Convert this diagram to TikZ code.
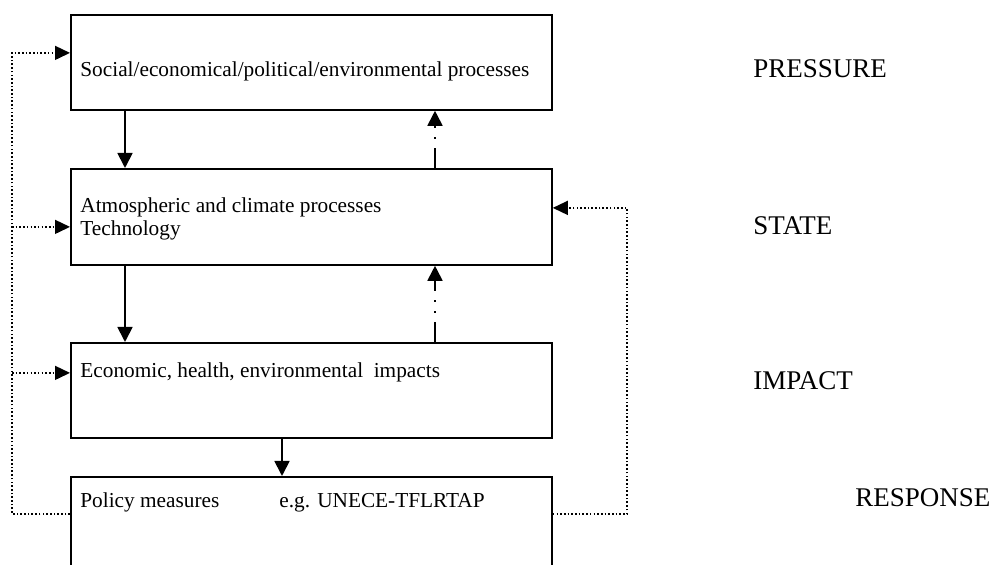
\documentclass[tikz,border=0pt]{standalone}
\usepackage{fontspec}
\setmainfont{Liberation Serif}
\usetikzlibrary{arrows.meta,calc}

\tikzset{
  box/.style={draw, line width=0.9pt, minimum width=240.5pt, anchor=north west, inner sep=0pt},
  txt/.style={anchor=base west, inner sep=0pt, font=\fontsize{10.65}{12}\selectfont},
  lbl/.style={anchor=base west, inner sep=0pt, font=\fontsize{13.5}{16}\selectfont},
  arr/.style={line width=0.9pt, -{Triangle[length=7.5pt,width=7.5pt]}},
  fb/.style={line width=0.7pt, dash pattern=on 0.8pt off 1.05pt, -{Triangle[length=7.5pt,width=7pt]}},
  dd/.style={line width=0.9pt, dash pattern=on 10pt off 4.5pt on 1pt off 4.5pt on 1pt off 4.5pt,
    -{Triangle[length=7.5pt,width=7.5pt]}},
}

\begin{document}
\begin{tikzpicture}[x=0.5pt,y=-0.5pt]
\useasboundingbox (0,0) rectangle (997,565);
% boxes
\node[box, minimum height=47.5pt] (social) at (70,14) {};
\node[box, minimum height=48pt] (atmos) at (70,168) {};
\node[box, minimum height=47.5pt] (econ) at (70,342) {};
\node[box, minimum height=60pt] (policy) at (70,476) {};
% texts in the boxes
\node[txt] (tsocial) at (80,77) {Social/economical/political/environmental processes};
\node[txt] (tatmos) at (80,213) {Atmospheric and climate processes};
\node[txt] (ttech) at (80,236) {Technology};
\node[txt] (tecon) at (80,378) {Economic, health, environmental~ impacts};
\node[txt] (tpolicy) at (80,508) {\makebox[99.5pt][l]{Policy measures}e.g. UNECE-TFLRTAP};
% labels
\node[lbl] (lpres) at (753,78) {PRESSURE};
\node[lbl] (lstate) at (753,235) {STATE};
\node[lbl] (limpact) at (753,390) {IMPACT};
\node[lbl] (lresp) at (855,507) {RESPONSE};
% chain
\coordinate (dn) at (125,0);
\coordinate (dn2) at (282,0);
\coordinate (up) at (435,0);
\draw[arr] (dn |- social.south) -- (dn |- atmos.north);
\draw[arr] (dn |- atmos.south) -- (dn |- econ.north);
\draw[arr] (dn2 |- econ.south) -- (dn2 |- policy.north);
\draw[dd] (up |- atmos.north) -- (up |- social.south);
\draw[dd] (up |- econ.north) -- (up |- atmos.south);
% feedback
\coordinate (fl) at (12,514);
\coordinate (fr) at (627,514);
\coordinate (in1) at ($(social.west)+(0,-9.5)$);
\coordinate (in2) at ($(atmos.west)+(0,10)$);
\coordinate (in3) at ($(econ.west)+(0,-17.5)$);
\coordinate (in4) at ($(atmos.east)+(0,-9)$);
\draw[fb] (policy.west |- fl) -- (fl) |- (in1);
\draw[fb] (fl |- in2) -- (in2);
\draw[fb] (fl |- in3) -- (in3);
\draw[fb] (policy.east |- fr) -- (fr) |- (in4);
\end{tikzpicture}
\end{document}
